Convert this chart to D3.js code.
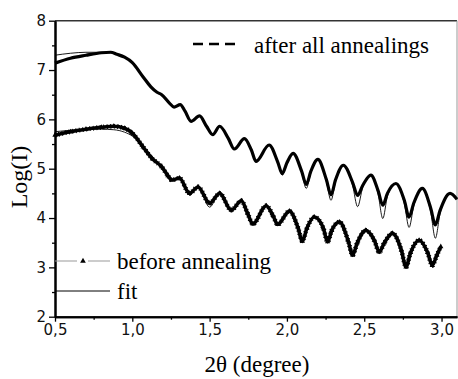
<!DOCTYPE html>
<html>
<head>
<meta charset="utf-8">
<script src="https://cdn.jsdelivr.net/npm/d3@7"></script>
<style>
  body { margin: 0; background: #fff; }
  svg { display: block; }
</style>
</head>
<body>
<div id="chart"></div>
<script>
// values: 2θ (degree) against Log(I)
const afterX = [0.50, 0.60, 0.70, 0.80, 0.86, 0.90, 0.95, 1.00, 1.07, 1.12, 1.16, 1.19, 1.24, 1.27, 1.31, 1.34, 1.38,
  1.435, 1.48, 1.52, 1.565, 1.62, 1.66, 1.725, 1.77, 1.80, 1.885, 1.94, 1.97, 2.00, 2.04, 2.095, 2.125, 2.155,
  2.20, 2.255, 2.285, 2.315, 2.365, 2.425, 2.457, 2.49, 2.543, 2.59, 2.62, 2.65, 2.705, 2.76, 2.79, 2.82,
  2.876, 2.93, 2.96, 2.99, 3.055, 3.10];
const afterY = [7.14, 7.24, 7.30, 7.35, 7.36, 7.32, 7.26, 7.15, 6.86, 6.66, 6.55, 6.50, 6.33, 6.25, 6.30, 6.17, 5.96,
  6.07, 5.86, 5.69, 5.86, 5.62, 5.40, 5.61, 5.38, 5.15, 5.48, 5.14, 4.90, 5.12, 5.31, 4.95, 4.68, 4.95,
  5.19, 4.78, 4.47, 4.78, 5.07, 4.72, 4.46, 4.66, 4.87, 4.55, 4.26, 4.50, 4.70, 4.35, 4.02, 4.30,
  4.60, 4.20, 3.86, 4.15, 4.50, 4.38];
const afterFitY = [7.30, 7.34, 7.36, 7.36, 7.35, 7.32, 7.26, 7.15, 6.86, 6.66, 6.55, 6.50, 6.33, 6.25, 6.30, 6.17, 5.96,
  6.07, 5.86, 5.68, 5.86, 5.62, 5.39, 5.61, 5.38, 5.13, 5.48, 5.14, 4.87, 5.12, 5.31, 4.92, 4.60, 4.92,
  5.19, 4.74, 4.36, 4.74, 5.07, 4.66, 4.23, 4.62, 4.87, 4.48, 3.99, 4.44, 4.70, 4.28, 3.81, 4.24,
  4.60, 4.12, 3.59, 4.08, 4.50, 4.38];

const beforeX = [0.50, 0.60, 0.70, 0.80, 0.88, 0.95, 1.00, 1.07, 1.13, 1.19, 1.23, 1.255, 1.305, 1.37, 1.425, 1.50,
  1.565, 1.64, 1.705, 1.745, 1.78, 1.866, 1.91, 1.94, 2.016, 2.07, 2.10, 2.13, 2.177, 2.235, 2.263, 2.29,
  2.34, 2.395, 2.425, 2.455, 2.51, 2.565, 2.597, 2.63, 2.683, 2.74, 2.77, 2.80, 2.855, 2.91, 2.94, 2.97, 2.995];
const beforeY = [5.68, 5.75, 5.80, 5.84, 5.86, 5.82, 5.72, 5.44, 5.20, 5.04, 4.86, 4.77, 4.81, 4.50, 4.63, 4.30,
  4.50, 4.16, 4.35, 4.10, 3.88, 4.25, 4.05, 3.87, 4.14, 3.82, 3.53, 3.80, 4.02, 3.80, 3.52, 3.75,
  3.92, 3.55, 3.25, 3.50, 3.75, 3.55, 3.31, 3.50, 3.69, 3.35, 3.01, 3.30, 3.55, 3.30, 3.04, 3.25, 3.42];
const beforeFitY = [5.75, 5.78, 5.80, 5.80, 5.79, 5.74, 5.66, 5.44, 5.20, 5.04, 4.86, 4.77, 4.81, 4.47, 4.63, 4.22,
  4.50, 4.14, 4.35, 4.10, 3.87, 4.25, 4.05, 3.85, 4.14, 3.82, 3.50, 3.80, 4.02, 3.80, 3.50, 3.75,
  3.92, 3.55, 3.22, 3.50, 3.75, 3.55, 3.28, 3.50, 3.69, 3.35, 2.98, 3.30, 3.55, 3.30, 3.01, 3.25, 3.42];

const xTicks = [0.5, 1.0, 1.5, 2.0, 2.5, 3.0];
const xMinorTicks = [0.75, 1.25, 1.75, 2.25, 2.75];
const yTicks = [2, 3, 4, 5, 6, 7, 8];
const yMinorTicks = [2.5, 3.5, 4.5, 5.5, 6.5, 7.5];

const width = 458;
const height = 379;
const plotLeft = 55, plotRight = 457, plotTop = 20.7, plotBottom = 316.7;
const serif = '"Liberation Serif", "Times New Roman", serif';
const sans = '"DejaVu Sans", Arial, sans-serif';

const svg = d3.select('#chart').append('svg').attr('width', width).attr('height', height);

const xScale = d3.scaleLinear().domain([0.5, 3.1]).range([plotLeft, plotRight]);
const yScale = d3.scaleLinear().domain([2, 8]).range([plotBottom, plotTop]);

const comma = d3.formatLocale({ decimal: ',', thousands: '.', grouping: [3], currency: ['', ''] });
const fmtX = comma.format('.1f');

// frame: heavy left/bottom axes, thinner top and right border
svg.append('line').attr('x1', plotLeft).attr('x2', plotRight).attr('y1', plotTop).attr('y2', plotTop)
  .attr('stroke', '#333').attr('stroke-width', 1.6);
svg.append('line').attr('x1', plotRight).attr('x2', plotRight).attr('y1', plotTop).attr('y2', plotBottom)
  .attr('stroke', '#999').attr('stroke-width', 1);

svg.append('g').attr('transform', `translate(0,${plotBottom})`)
  .call(d3.axisBottom(xScale).tickValues(xTicks).tickSize(5).tickSizeOuter(0).tickPadding(3).tickFormat(fmtX));
svg.append('g').attr('transform', `translate(0,${plotBottom})`)
  .call(d3.axisBottom(xScale).tickValues(xMinorTicks).tickSize(3).tickSizeOuter(0).tickFormat(''));

svg.append('g').attr('transform', `translate(${plotLeft},0)`)
  .call(d3.axisLeft(yScale).tickValues(yTicks).tickSize(6).tickSizeOuter(0).tickPadding(3).tickFormat(d3.format('d')));
svg.append('g').attr('transform', `translate(${plotLeft},0)`)
  .call(d3.axisLeft(yScale).tickValues(yMinorTicks).tickSize(3).tickSizeOuter(0).tickFormat(''));

svg.selectAll('.domain').attr('stroke', '#000').attr('stroke-width', 2);
svg.selectAll('.tick line').attr('stroke', '#000').attr('stroke-width', 1.3);
svg.selectAll('.tick text').style('font-family', sans).style('font-size', '15px').attr('fill', '#111');

// curves
const line = (xs, ys) => d3.line()
  .x((d, i) => xScale(xs[i]))
  .y((d) => yScale(d))
  .curve(d3.curveMonotoneX)(ys);

const plot = svg.append('g');

plot.append('path').attr('d', line(afterX, afterY))
  .attr('fill', 'none').attr('stroke', '#000').attr('stroke-width', 3.2).attr('stroke-linejoin', 'round');

// triangles of the "before" series sit so close that they read as a thick, toothed line
plot.append('path').attr('d', line(beforeX, beforeY))
  .attr('fill', 'none').attr('stroke', '#000').attr('stroke-width', 3.6).attr('stroke-linejoin', 'round');
plot.append('path').attr('d', line(beforeX, beforeY))
  .attr('fill', 'none').attr('stroke', '#000').attr('stroke-width', 4.8).attr('stroke-dasharray', '1 2.5');

plot.selectAll('.tri').data(beforeY).join('path')
  .attr('class', 'tri')
  .attr('d', d3.symbol(d3.symbolTriangle, 12))
  .attr('transform', (d, i) => `translate(${xScale(beforeX[i])},${yScale(d)})`)
  .attr('fill', '#000');

plot.append('path').attr('d', line(afterX, afterFitY))
  .attr('fill', 'none').attr('stroke', '#000').attr('stroke-width', 0.9);
plot.append('path').attr('d', line(beforeX, beforeFitY))
  .attr('fill', 'none').attr('stroke', '#000').attr('stroke-width', 0.9);

// legends
const legend = svg.append('g').style('font-family', serif).style('font-size', '23px').attr('fill', '#000');

legend.append('line').attr('x1', 193).attr('x2', 236).attr('y1', 44).attr('y2', 44)
  .attr('stroke', '#000').attr('stroke-width', 2.6).attr('stroke-dasharray', '10 6');
legend.append('text').attr('x', 254).attr('y', 53).text('after all annealings');

legend.append('line').attr('x1', plotLeft).attr('x2', 77).attr('y1', 261).attr('y2', 261)
  .attr('stroke', '#999').attr('stroke-width', 1);
legend.append('line').attr('x1', 88).attr('x2', 110).attr('y1', 261).attr('y2', 261)
  .attr('stroke', '#999').attr('stroke-width', 1);
legend.append('path').attr('d', d3.symbol(d3.symbolTriangle, 14)).attr('transform', 'translate(83,261)');
legend.append('text').attr('x', 117).attr('y', 269).text('before annealing');

legend.append('line').attr('x1', plotLeft).attr('x2', 110).attr('y1', 291).attr('y2', 291)
  .attr('stroke', '#000').attr('stroke-width', 1);
legend.append('text').attr('x', 117).attr('y', 299).text('fit');

// axis titles
svg.append('text').attr('x', 257).attr('y', 372).attr('text-anchor', 'middle')
  .style('font-family', serif).style('font-size', '23px').text('2θ (degree)');
svg.append('text').attr('transform', 'translate(27,177) rotate(-90)').attr('text-anchor', 'middle')
  .style('font-family', serif).style('font-size', '24px').text('Log(I)');
</script>
</body>
</html>
